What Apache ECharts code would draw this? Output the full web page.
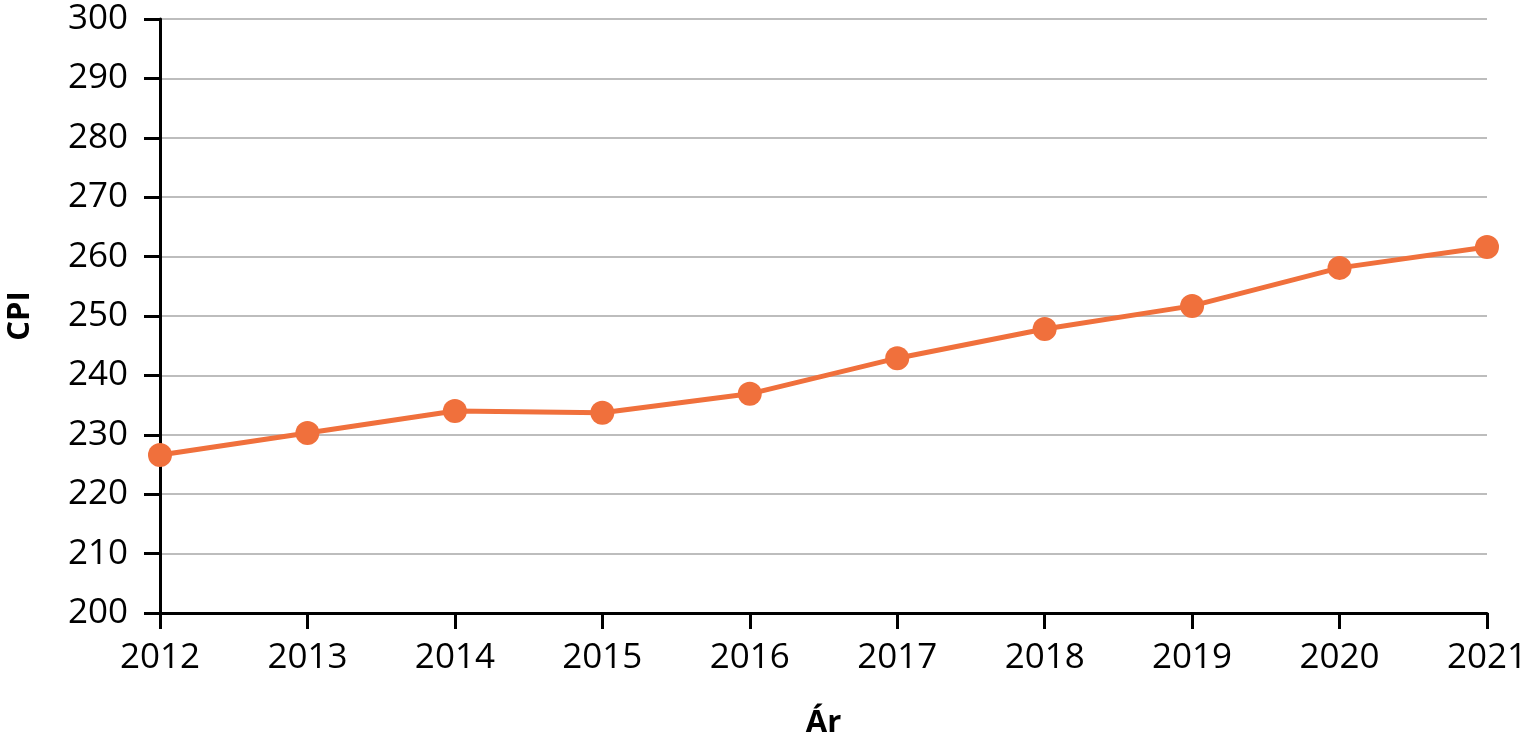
<!DOCTYPE html>
<html>
<head>
<meta charset="utf-8">
<script src="https://cdn.jsdelivr.net/npm/echarts@6/dist/echarts.min.js"></script>
<style>
  html, body { margin: 0; padding: 0; background: #fff; }
  #main { width: 1529px; height: 750px; }
</style>
</head>
<body>
<div id="main"></div>
<script>
// ár (years) on the x axis
var years = ['2012', '2013', '2014', '2015', '2016', '2017', '2018', '2019', '2020', '2021']
// CPI values
var cpi = [226.6, 230.3, 234.0, 233.7, 236.9, 242.9, 247.8, 251.7, 258.1, 261.6]

var yMin = 200
var yMax = 300
var yStep = 10

var myChart = echarts.init(document.getElementById('main'))
myChart.setOption({
  animation: false,
  textStyle: { fontFamily: 'Open Sans' },
  grid: {
    left: 160,
    right: 42,
    top: 19,
    bottom: 137,
    outerBoundsMode: 'none'
  },
  xAxis: {
    type: 'category',
    data: years,
    boundaryGap: false,
    name: 'Ár',
    nameLocation: 'middle',
    nameGap: 95,
    nameTextStyle: { fontSize: 31, fontWeight: 'bold', color: '#000' },
    axisLine: { lineStyle: { color: '#000', width: 3 } },
    axisTick: { length: 16, lineStyle: { color: '#000', width: 3 } },
    axisLabel: { fontSize: 35, color: '#000', margin: 28 },
    splitLine: { show: false }
  },
  yAxis: {
    type: 'value',
    min: yMin,
    max: yMax,
    interval: yStep,
    name: 'CPI',
    nameLocation: 'middle',
    nameGap: 124,
    nameRotate: 90,
    nameTextStyle: { fontSize: 31, fontWeight: 'bold', color: '#000' },
    axisLine: { show: true, lineStyle: { color: '#000', width: 3 } },
    axisTick: { show: true, length: 16, lineStyle: { color: '#000', width: 3 } },
    axisLabel: { fontSize: 35, color: '#000', margin: 32 },
    splitLine: { lineStyle: { color: '#bdbdbd', width: 2 } }
  },
  series: [
    {
      type: 'line',
      data: cpi,
      symbol: 'circle',
      symbolSize: 24,
      lineStyle: { color: '#f0703c', width: 5 },
      itemStyle: { color: '#f0703c' }
    }
  ]
})
</script>
</body>
</html>
